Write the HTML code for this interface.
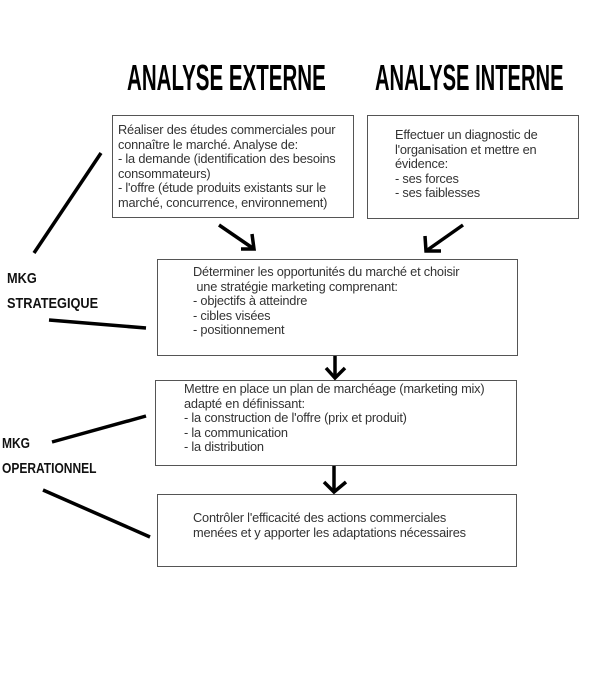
<!DOCTYPE html>
<html><head><meta charset="utf-8"><style>
body{margin:0;background:#fff;width:600px;height:686px;position:relative;overflow:hidden;font-family:"Liberation Sans",Arial,sans-serif;}
.b{position:absolute;border:1px solid #555;box-sizing:border-box;}
.t{position:absolute;font-size:12.8px;line-height:14.6px;color:#333;white-space:nowrap;letter-spacing:-0.2px;}
.h{position:absolute;font-family:"Liberation Sans Narrow","Liberation Sans",sans-serif;font-weight:bold;font-size:36px;line-height:36px;transform-origin:0 0;color:#000;white-space:nowrap;}
.l{position:absolute;font-family:"Liberation Sans Narrow","Liberation Sans",sans-serif;font-weight:bold;font-size:15px;color:#111;line-height:25px;transform-origin:0 0;white-space:nowrap;}
</style></head><body>
<div class="h" style="left:127px;top:60px;transform:scaleX(0.57)">ANALYSE EXTERNE</div>
<div class="h" style="left:375px;top:60px;transform:scaleX(0.56)">ANALYSE INTERNE</div>
<div class="b" style="left:112px;top:115px;width:242px;height:103px"></div>
<div class="b" style="left:367px;top:115px;width:212px;height:104px"></div>
<div class="b" style="left:157px;top:259px;width:361px;height:97px"></div>
<div class="b" style="left:155px;top:380px;width:362px;height:86px"></div>
<div class="b" style="left:157px;top:494px;width:360px;height:73px"></div>
<div class="t" style="left:118px;top:123px">Réaliser des études commerciales pour<br>connaître le marché. Analyse de:<br>- la demande (identification des besoins<br>consommateurs)<br>- l'offre (étude produits existants sur le<br>marché, concurrence, environnement)</div>
<div class="t" style="left:395px;top:128px">Effectuer un diagnostic de<br>l'organisation et mettre en<br>évidence:<br>- ses forces<br>- ses faiblesses</div>
<div class="t" style="left:193px;top:265px">Déterminer les opportunités du marché et choisir<br>&nbsp;une stratégie marketing comprenant:<br>- objectifs à atteindre<br>- cibles visées<br>- positionnement</div>
<div class="t" style="left:184px;top:382px">Mettre en place un plan de marchéage (marketing mix)<br>adapté en définissant:<br>- la construction de l'offre (prix et produit)<br>- la communication<br>- la distribution</div>
<div class="t" style="left:193px;top:511px">Contrôler l'efficacité des actions commerciales<br>menées et y apporter les adaptations nécessaires</div>
<div class="l" style="left:7px;top:266px;transform:scaleX(0.85)">MKG<br>STRATEGIQUE</div>
<div class="l" style="left:2px;top:431px;transform:scaleX(0.8)">MKG<br>OPERATIONNEL</div>
<svg width="600" height="686" style="position:absolute;left:0;top:0" fill="none" stroke="#000" stroke-width="3.5">
<line x1="34" y1="253" x2="101" y2="153"/>
<line x1="49" y1="320" x2="146" y2="328"/>
<line x1="52" y1="442" x2="146" y2="416"/>
<line x1="43" y1="490" x2="150" y2="537"/>
<line x1="219" y1="225" x2="254" y2="249"/>
<polyline points="241,249 254,249 252,234"/>
<line x1="463" y1="225" x2="426" y2="251"/>
<polyline points="425,236 426,251 441,251"/>
<line x1="335" y1="356" x2="335" y2="378"/>
<polyline points="326,368 335,378 345,368"/>
<line x1="334" y1="466" x2="334" y2="492"/>
<polyline points="324,482 334,492 346,482"/>
</svg>
</body></html>
